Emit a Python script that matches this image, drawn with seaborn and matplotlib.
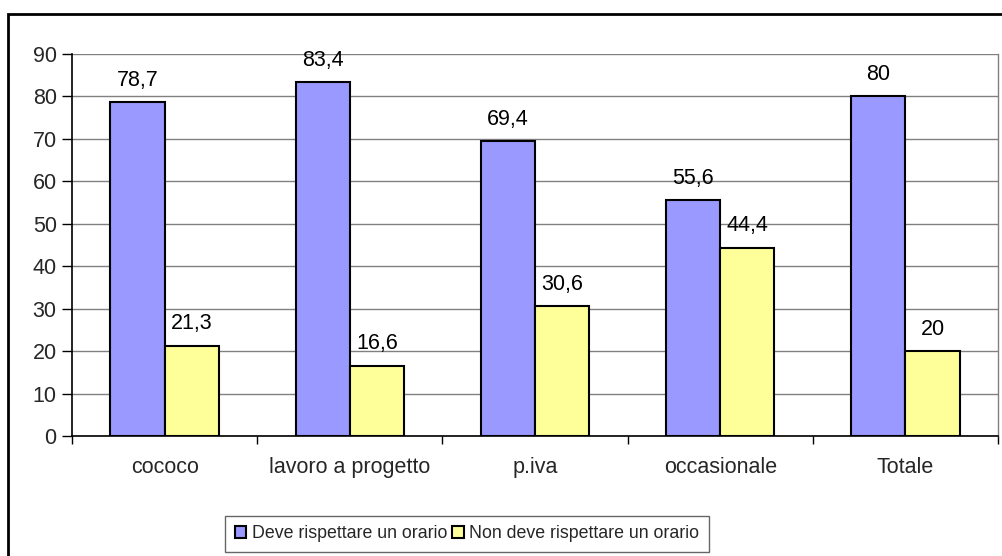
import matplotlib
matplotlib.use("Agg")
import matplotlib.pyplot as plt
import seaborn as sns
import pandas as pd
from matplotlib.patches import Rectangle

# dati
categorie = ['cococo', 'lavoro a progetto', 'p.iva', 'occasionale', 'Totale']
deve = [78.7, 83.4, 69.4, 55.6, 80]
non_deve = [21.3, 16.6, 30.6, 44.4, 20]
serie = ['Deve rispettare un orario', 'Non deve rispettare un orario']
y_ticks = [0, 10, 20, 30, 40, 50, 60, 70, 80, 90]

df = pd.DataFrame({
    'categoria': categorie * 2,
    'valore': deve + non_deve,
    'serie': [serie[0]] * len(categorie) + [serie[1]] * len(categorie),
})

sns.set_theme(style="white")
plt.rcParams['font.family'] = ['Liberation Sans', 'DejaVu Sans']
FS = 15.5

fig = plt.figure(figsize=(10.02, 5.56), dpi=100)
ax = fig.add_axes([72 / 1002, 120 / 556, 926 / 1002, 382 / 556])

sns.barplot(data=df, x='categoria', y='valore', hue='serie', ax=ax,
            palette=['#9999FF', '#FFFF99'], width=0.585, gap=0,
            edgecolor='black', linewidth=1.5, saturation=1, legend=True)

# etichette con virgola decimale
for cont, vals in zip(ax.containers, [deve, non_deve]):
    lab = [('%g' % v).replace('.', ',') for v in vals]
    ax.bar_label(cont, labels=lab, padding=8, fontsize=FS, color='black')

ax.set_ylim(0, 90)
ax.set_xlim(-0.5, len(categorie) - 0.5)
ax.set_yticks(y_ticks)
ax.set_yticklabels([str(t) for t in y_ticks], fontsize=FS)
ax.yaxis.grid(True, color='#808080', linewidth=1)
ax.set_axisbelow(True)
ax.set_xlabel('')
ax.set_ylabel('')

# tick tra i gruppi
ax.set_xticks([i for i in range(len(categorie))])
ax.set_xticklabels(categorie, fontsize=FS)
ax.tick_params(axis='x', length=0, pad=15)
ax.set_xticks([i - 0.5 for i in range(len(categorie) + 1)], minor=True)
ax.tick_params(axis='x', which='minor', length=6, width=1, color='black', direction='out', bottom=True)
ax.tick_params(axis='y', length=7, width=1, color='black', direction='out', left=True, pad=4)

for s in ['left', 'bottom']:
    ax.spines[s].set_color('black')
    ax.spines[s].set_linewidth(1.2)
ax.spines['top'].set_visible(False)
ax.spines['right'].set_color('#808080')
ax.spines['right'].set_linewidth(1)

leg = ax.legend(loc='center', bbox_to_anchor=(467 / 1002, 22 / 556), bbox_transform=fig.transFigure,
                ncol=2, fontsize=12.8, frameon=True, fancybox=False, edgecolor='#404040',
                handlelength=0.65, handleheight=0.65, handletextpad=0.3, columnspacing=0.3,
                borderpad=0.55, borderaxespad=0, title=None)
leg.get_frame().set_linewidth(1)

# cornice esterna
fig.patches.append(Rectangle((8 / 1002, -0.1), 1.1, (556 - 14) / 556 + 0.1, transform=fig.transFigure,
                             fill=False, edgecolor='black', linewidth=2))

fig.savefig('out.png', dpi=100)
